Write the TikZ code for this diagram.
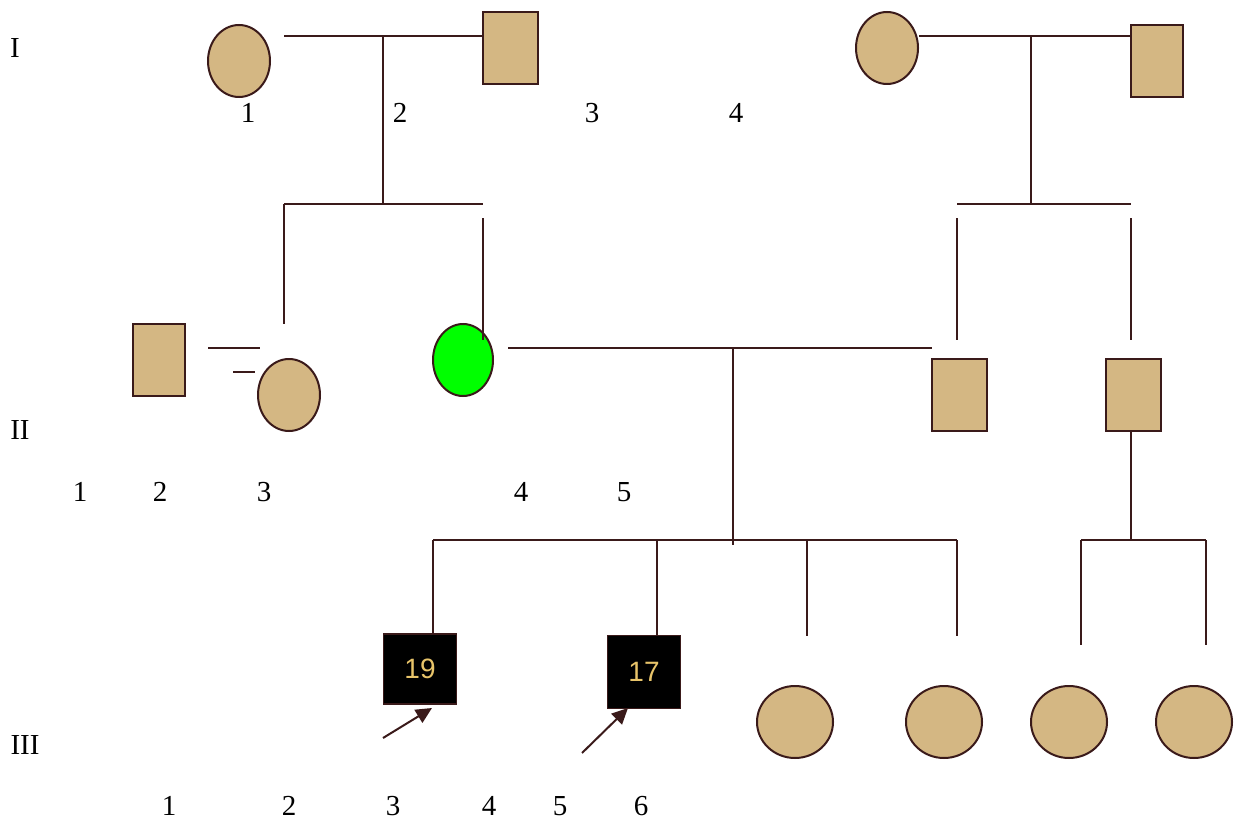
\documentclass[tikz,border=0pt]{standalone}
\usepackage{fontspec}
\setmainfont{Liberation Serif}
\setsansfont{Liberation Sans}
\usetikzlibrary{arrows.meta,shapes.geometric}
\definecolor{tan}{HTML}{D4B783}
\definecolor{ln}{HTML}{3A1A1A}
\definecolor{gold}{HTML}{E8C46A}
\definecolor{grn}{HTML}{00FF00}
\tikzset{
  fem/.style={ellipse,draw=ln,line width=2pt,fill=tan,minimum width=#1,minimum height=72pt,inner sep=0pt},
  fem/.default=62pt,
  mal/.style={rectangle,draw=ln,line width=2pt,fill=tan,minimum width=#1,minimum height=72pt,inner sep=0pt},
  mal/.default=55pt,
  aff/.style={rectangle,draw=ln,line width=1.4pt,fill=black,minimum width=73pt,minimum height=70pt,inner sep=0pt,
    text=gold,font=\sffamily\fontsize{28}{32}\selectfont},
  lbl/.style={font=\fontsize{29}{34}\selectfont,inner sep=0pt},
  con/.style={draw=ln,line width=2pt},
  pro/.style={draw=ln,line width=2pt,-{Triangle[length=16pt,width=15pt]}}
}
\begin{document}
\begin{tikzpicture}[x=1pt,y=-1pt]
\useasboundingbox (0,0) rectangle (1236,821);
% generation labels
\node[lbl] (gI) at (15,48) {I};
\node[lbl] (gII) at (20,430) {II};
\node[lbl] (gIII) at (25,745) {III};
% generation I
\node[fem] (i1) at (239,61) {};
\node[mal] (i2) at (510,48) {};
\node[fem] (i3) at (887,48) {};
\node[mal=52pt] (i4) at (1157,61) {};
\node[lbl] at (248,113) {1};
\node[lbl] at (400,113) {2};
\node[lbl] at (592,113) {3};
\node[lbl] at (736,113) {4};
% generation II
\node[mal=52pt] (ii1) at (159,360) {};
\node[fem] (ii3) at (289,395) {};
\node[fem=60pt,fill=grn] (ii4) at (463,360) {};
\node[mal] (ii5) at (959,395) {};
\node[mal] (ii6) at (1133,395) {};
\node[lbl] at (80,492) {1};
\node[lbl] at (160,492) {2};
\node[lbl] at (264,492) {3};
\node[lbl] at (521,492) {4};
\node[lbl] at (624,492) {5};
% generation III
\node[aff] (iii1) at (420,669) {19};
\node[aff,minimum height=73pt] (iii2) at (644,672) {17};
\node[fem=76pt] (iii3) at (795,722) {};
\node[fem=76pt] (iii4) at (944,722) {};
\node[fem=76pt] (iii5) at (1069,722) {};
\node[fem=76pt] (iii6) at (1194,722) {};
\node[lbl] at (169,806) {1};
\node[lbl] at (289,806) {2};
\node[lbl] at (393,806) {3};
\node[lbl] at (489,806) {4};
\node[lbl] at (560,806) {5};
\node[lbl] at (641,806) {6};
% coordinates
\coordinate (m1a) at (284,36);
\coordinate (m1c) at (383,36);
\coordinate (s1c) at (383,204);
\coordinate (s1l) at (284,204);
\coordinate (s1r) at (483,204);
\coordinate (s1lb) at (284,324);
\coordinate (s1rt) at (483,218);
\coordinate (s1rb) at (483,340);
\coordinate (m2c) at (1031,36);
\coordinate (s2c) at (1031,204);
\coordinate (s2l) at (957,204);
\coordinate (s2r) at (1131,204);
\coordinate (s2lt) at (957,218);
\coordinate (s2lb) at (957,340);
\coordinate (s2rt) at (1131,218);
\coordinate (s2rb) at (1131,340);
\coordinate (h1a) at (208,348);
\coordinate (h1b) at (260,348);
\coordinate (h2a) at (233,372);
\coordinate (h2b) at (255,372);
\coordinate (m3a) at (508,348);
\coordinate (m3b) at (932,348);
\coordinate (m3c) at (733,348);
\coordinate (s3c) at (733,545);
\coordinate (s3l) at (433,540);
\coordinate (s3r) at (957,540);
\coordinate (v3) at (807,540);
\coordinate (v3b) at (807,636);
\coordinate (v4b) at (957,636);
\coordinate (v2) at (657,540);
\coordinate (s4t) at (1131,540);
\coordinate (s4l) at (1081,540);
\coordinate (s4r) at (1206,540);
\coordinate (s4lb) at (1081,645);
\coordinate (s4rb) at (1206,645);
\coordinate (a1) at (383,738);
\coordinate (a2) at (582,753);
% connectors
\draw[con] (m1a) -- (i2.west |- m1a);
\draw[con] (m1c) -- (s1c);
\draw[con] (s1l) -- (s1r);
\draw[con] (s1l) -- (s1lb);
\draw[con] (s1rt) -- (s1rb);
\draw[con] (i3.east |- m2c) -- (i4.west |- m2c);
\draw[con] (m2c) -- (s2c);
\draw[con] (s2l) -- (s2r);
\draw[con] (s2lt) -- (s2lb);
\draw[con] (s2rt) -- (s2rb);
\draw[con] (h1a) -- (h1b);
\draw[con] (h2a) -- (h2b);
\draw[con] (m3a) -- (m3b);
\draw[con] (m3c) -- (s3c);
\draw[con] (s3l) -- (s3r);
\draw[con] (s3l) -- (iii1.north -| s3l);
\draw[con] (v2) -- (iii2.north -| v2);
\draw[con] (v3) -- (v3b);
\draw[con] (s3r) -- (v4b);
\draw[con] (ii6.south -| s4t) -- (s4t);
\draw[con] (s4l) -- (s4r);
\draw[con] (s4l) -- (s4lb);
\draw[con] (s4r) -- (s4rb);
\draw[pro] (a1) -- (432,708);
\draw[pro] (a2) -- (628,708);
\end{tikzpicture}
\end{document}
